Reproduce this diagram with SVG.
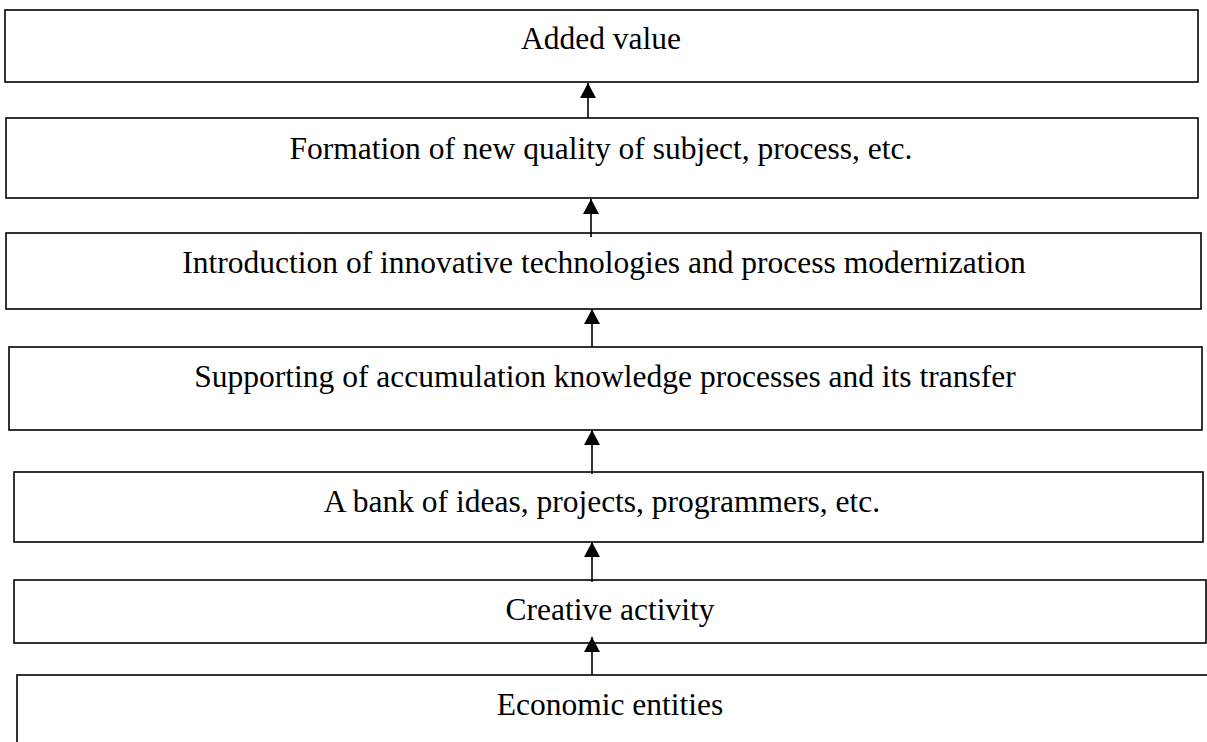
<svg xmlns="http://www.w3.org/2000/svg" width="1207" height="742" viewBox="0 0 1207 742">
  <style>
    .box { fill: #ffffff; stroke: #000000; stroke-width: 1.6; }
    .lbl { font-family: "Liberation Serif", "Times New Roman", serif; font-size: 31.5px; fill: #000000; text-anchor: middle; }
    .conn { stroke: #000000; stroke-width: 1.6; fill: none; }
  </style>
  <defs>
    <marker id="arrow" markerUnits="userSpaceOnUse" markerWidth="16" markerHeight="16" refX="15" refY="8" orient="auto">
      <path d="M0,0 L15,8 L0,16 Z" fill="#000000"/>
    </marker>
  </defs>
  <rect width="1207" height="742" fill="#ffffff"/>
  <g id="node-added-value">
    <rect class="box" x="5" y="10" width="1193" height="72"/>
    <text class="lbl" x="601" y="49">Added value</text>
  </g>
  <g id="node-formation">
    <rect class="box" x="6" y="118" width="1192" height="80"/>
    <text class="lbl" x="601" y="159">Formation of new quality of subject, process, etc.</text>
  </g>
  <g id="node-introduction">
    <rect class="box" x="6" y="233" width="1195" height="76"/>
    <text class="lbl" x="604" y="273">Introduction of innovative technologies and process modernization</text>
  </g>
  <g id="node-supporting">
    <rect class="box" x="9" y="347" width="1193" height="83"/>
    <text class="lbl" x="605" y="387">Supporting of accumulation knowledge processes and its transfer</text>
  </g>
  <g id="node-bank">
    <rect class="box" x="14" y="472" width="1189" height="70"/>
    <text class="lbl" x="602" y="512">A bank of ideas, projects, programmers, etc.</text>
  </g>
  <g id="node-creative">
    <rect class="box" x="14" y="580" width="1192" height="63"/>
    <text class="lbl" x="610" y="620">Creative activity</text>
  </g>
  <g id="node-economic">
    <rect class="box" x="17" y="675" width="1200" height="100"/>
    <text class="lbl" x="610" y="715">Economic entities</text>
  </g>
  <g id="connectors">
    <line class="conn" x1="588" y1="118" x2="588" y2="83" marker-end="url(#arrow)"/>
    <line class="conn" x1="591" y1="237" x2="591" y2="199" marker-end="url(#arrow)"/>
    <line class="conn" x1="592" y1="347" x2="592" y2="309" marker-end="url(#arrow)"/>
    <line class="conn" x1="592" y1="474" x2="592" y2="430" marker-end="url(#arrow)"/>
    <line class="conn" x1="592" y1="582" x2="592" y2="542" marker-end="url(#arrow)"/>
    <line class="conn" x1="592" y1="675" x2="592" y2="637" marker-end="url(#arrow)"/>
  </g>
</svg>
